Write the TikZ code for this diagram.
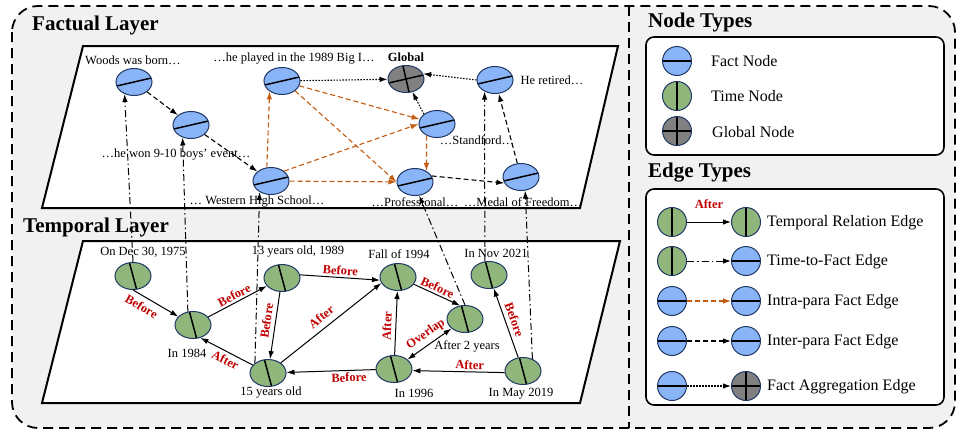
\documentclass[tikz,border=0pt]{standalone}
\usepackage{fontspec}
\setmainfont{Liberation Serif}
\usetikzlibrary{arrows.meta,shapes,positioning,calc,backgrounds}
\definecolor{factblue}{RGB}{138,180,248}
\definecolor{timegreen}{RGB}{145,182,124}
\definecolor{globgray}{RGB}{128,128,128}
\definecolor{nodeline}{RGB}{31,56,100}
\definecolor{intraorange}{RGB}{197,90,17}
\definecolor{relred}{RGB}{192,0,0}
\definecolor{panelgray}{RGB}{241,241,241}

\begin{document}
\begin{tikzpicture}
[x=1pt,y=-1pt,
>={Latex[length=8pt,width=5.5pt]},
F/.style={ellipse,draw=nodeline,line width=1pt,fill=factblue,inner sep=0pt,
  minimum width=36pt,minimum height=27pt,
  path picture={\draw[black,line width=1.5pt]
    ($(path picture bounding box.center)+(180+#1:30pt)$) --
    ($(path picture bounding box.center)+(#1:30pt)$);}},
F/.default=13,
T/.style={ellipse,draw=nodeline,line width=1pt,fill=timegreen,inner sep=0pt,
  minimum width=36pt,minimum height=27pt,
  path picture={\draw[black,line width=1.5pt]
    ($(path picture bounding box.center)+(180+#1:30pt)$) --
    ($(path picture bounding box.center)+(#1:30pt)$);}},
T/.default=105,
G/.style={ellipse,draw=nodeline,line width=1pt,fill=globgray,inner sep=0pt,
  minimum width=36pt,minimum height=27pt,
  path picture={\draw[black,line width=1.5pt]
    ($(path picture bounding box.center)+(180+#1:30pt)$) --
    ($(path picture bounding box.center)+(#1:30pt)$)
    ($(path picture bounding box.center)+(270+#1:30pt)$) --
    ($(path picture bounding box.center)+(90+#1:30pt)$);}},
G/.default=13,
L/.style={minimum width=29pt,minimum height=29pt},
lbl/.style={font=\fontsize{12.5}{14}\selectfont,inner sep=1pt},
rel/.style={text=relred,font=\bfseries\fontsize{12.5}{14}\selectfont,sloped,inner sep=2pt},
ttl/.style={font=\bfseries\fontsize{21}{24}\selectfont,anchor=west,inner sep=0pt},
leg/.style={font=\fontsize{16}{18}\selectfont,anchor=west,inner sep=0pt},
trel/.style={->,line width=1pt},
tfact/.style={->,line width=1pt,dash pattern=on 7pt off 3pt on 1.5pt off 3pt},
intra/.style={->,line width=1.1pt,draw=intraorange,dash pattern=on 5pt off 3pt},
inter/.style={->,line width=1.1pt,dash pattern=on 5pt off 3pt},
agg/.style={->,line width=1.1pt,dash pattern=on 1.5pt off 1.5pt}]
%%
\useasboundingbox (0,0) rectangle (958,432);
%% panels
\draw[line width=1.8pt,dash pattern=on 10pt off 6pt,rounded corners=26pt,fill=panelgray] (12,6) rectangle (955,428);
\draw[line width=1.8pt,dash pattern=on 10pt off 6pt] (629,6) -- (629,428);
%%
%%%%%%%%%%%%%%%%%%
% Factual layer
%%%%%%%%%%%%%%%%%%
\draw[line width=2pt,fill=white] (83,46) -- (618,46) -- (580,208) -- (42,208) -- cycle;
\node[ttl] (factttl) at (32,25) {Factual Layer};
%% fact nodes
\node[F] (born) at (134,82) {};
\node[F] (won) at (191,125) {};
\node[F] (western) at (271,181) {};
\node[F] (played) at (282,81) {};
\node[G] (global) at (406,79) {};
\node[F] (stanford) at (437,124) {};
\node[F] (prof) at (415,182) {};
\node[F] (medal) at (521,177) {};
\node[F] (retired) at (495,80) {};
%% texts
\node[lbl] (bornl) at (133,60) {Woods was born…};
\node[lbl] (wonl) at (176,155) {…he won 9-10 boys’ event…};
\node[lbl] (westernl) at (257,202) {… Western High School…};
\node[lbl] (playedl) at (294,59) {…he played in the 1989 Big I…};
\node[lbl,font=\bfseries\fontsize{12.5}{14}\selectfont] (globall) at (406,57) {Global};
\node[lbl] (stanfordl) at (477,140) {…Standford…};
\node[lbl] (profl) at (415,202) {…Professional…};
\node[lbl] (medall) at (523,202) {…Medal of Freedom…};
\node[lbl] (retiredl) at (552,80) {He retired…};
%% edges
\draw[inter] (born) -- (won);
\draw[inter] (won) -- (western);
\draw[intra] (western.107) -- (played.220);
\draw[intra] (western.north east) -- (stanford.west);
\draw[intra] (western) -- (prof);
\draw[intra] (played) -- (stanford);
\draw[intra] (played.south east) -- (prof.west);
\draw[intra] (stanford.228) -- (prof.44);
\draw[agg] (played) -- (global);
\draw[agg] (stanford.north west) -- (global.296);
\draw[agg] (retired.west) -- (global.17);
\draw[inter] (prof.20) -- (medal.200);
\draw[inter] (medal) -- (retired);
%%
%%%%%%%%%%%%%%%%%%
% Temporal layer
%%%%%%%%%%%%%%%%%%
\draw[line width=2pt,fill=white] (83,241) -- (620,241) -- (580,403) -- (42,403) -- cycle;
\node[ttl] (tempttl) at (23,227) {Temporal Layer};
%% time nodes
\node[T] (dec75) at (133,276) {};
\node[T] (y84) at (193,325) {};
\node[T] (y89) at (282,278) {};
\node[T] (yr15) at (268,373) {};
\node[T] (fall94) at (398,277) {};
\node[T] (after2) at (465,319) {};
\node[T] (y96) at (394,369) {};
\node[T] (nov21) at (489,275) {};
\node[T] (may19) at (523,371) {};
%% texts
\node[lbl] (dec75l) at (143,252) {On Dec 30, 1975};
\node[lbl] (y84l) at (187,353) {In 1984};
\node[lbl] (y89l) at (298,252) {13 years old, 1989};
\node[lbl] (yr15l) at (271,393) {15 years old};
\node[lbl] (fall94l) at (399,254) {Fall of 1994};
\node[lbl] (after2l) at (467,346) {After 2 years};
\node[lbl] (y96l) at (414,393) {In 1996};
\node[lbl] (nov21l) at (496,253) {In Nov 2021};
\node[lbl] (may19l) at (521,394) {In May 2019};
%% temporal relations
\draw[trel] (dec75.south) -- (y84.150) node[rel,pos=.3,below=3pt] (r1) {Before};
\draw[trel] (y84) -- (y89) node[rel,midway,above] (r2) {Before};
\draw[trel] (y89) -- (yr15) node[rel,pos=.45,above=2pt] (r3) {Before};
\draw[trel] (yr15) -- (y84.-60) node[rel,pos=.45,below=1pt] (r4) {After};
\draw[trel] (y89.10) -- (fall94.190) node[rel,midway,above] (r5) {Before};
\draw[trel] (yr15) -- (fall94.200) node[rel,pos=.47,above=4pt] (r6) {After};
\draw[trel] (fall94) -- (after2.110) node[rel,pos=.45,above] (r7) {Before};
\draw[trel] (y96) -- (fall94) node[rel,pos=.45,above=2pt] (r8) {After};
\draw[<->,line width=1pt] (y96) -- (after2) node[rel,pos=.55,above=2pt] (r9) {Overlap};
\draw[trel] (y96) -- (yr15) node[rel,pos=.3,below] (r10) {Before};
\draw[trel] (may19.185) -- (y96.-5) node[rel,pos=.38,above] (r11) {After};
\draw[trel] (may19) -- (nov21) node[rel,midway,above=2pt] (r12) {Before};
%% time to fact
\draw[tfact] (dec75.north) -- (born.232);
\draw[tfact] (y84.111) -- (won.236);
\draw[tfact] (yr15.north west) -- (western.224);
\draw[tfact] (after2.north) -- (prof.287);
\draw[tfact] (nov21.107) -- (retired.228);
\draw[tfact] (may19.52) -- (medal.287);
%%
%%%%%%%%%%%%%%%%%%
% Legend
%%%%%%%%%%%%%%%%%%
\node[ttl] (nodettl) at (648,22) {Node Types};
\draw[line width=1.6pt,rounded corners=8pt,fill=white] (646,37) rectangle (944,155);
\node[F=0,L] (lfact) at (677,61) {};
\node[T=90,L] (ltime) at (677,96) {};
\node[G=0,L] (lglob) at (677,131) {};
\node[leg] (lfactt) at (711,61) {Fact Node};
\node[leg] (ltimet) at (711,96) {Time Node};
\node[leg] (lglobt) at (712,132) {Global Node};
%%
\node[ttl] (edgettl) at (648,173) {Edge Types};
\draw[line width=1.6pt,rounded corners=8pt,fill=white] (646,189) rectangle (944,405);
%% temporal relation
\node[T=90,L] (ea1) at (672,222) {};
\node[T=90,L] (eb1) at (746,222) {};
\draw[trel] (ea1) -- (eb1) node[rel,midway,above=11pt] (lafter) {After};
\node[leg] (el1) at (767,223) {Temporal Relation Edge};
%% time to fact
\node[T=90,L] (ea2) at (672,261) {};
\node[F=0,L] (eb2) at (746,261) {};
\draw[tfact] (ea2) -- (eb2);
\node[leg] (el2) at (767,262) {Time-to-Fact Edge};
%% intra
\node[F=0,L] (ea3) at (672,301) {};
\node[F=0,L] (eb3) at (746,301) {};
\draw[intra] (ea3) -- (eb3);
\node[leg] (el3) at (767,302) {Intra-para Fact Edge};
%% inter
\node[F=0,L] (ea4) at (672,341) {};
\node[F=0,L] (eb4) at (746,341) {};
\draw[inter] (ea4) -- (eb4);
\node[leg] (el4) at (767,342) {Inter-para Fact Edge};
%% aggregation
\node[F=0,L] (ea5) at (672,386) {};
\node[G=0,L] (eb5) at (746,386) {};
\draw[agg] (ea5) -- (eb5);
\node[leg] (el5) at (767,387) {Fact Aggregation Edge};
%%
\end{tikzpicture}
\end{document}
